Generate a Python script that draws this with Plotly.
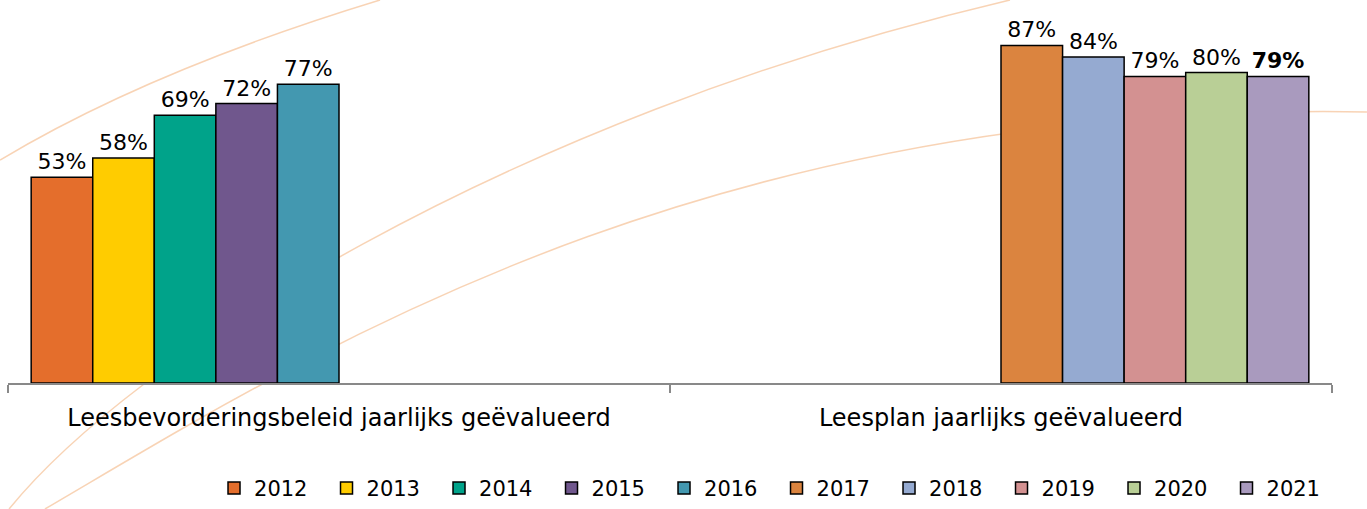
import plotly.graph_objects as go

categories = ["Leesbevorderingsbeleid jaarlijks geëvalueerd", "Leesplan jaarlijks geëvalueerd"]
years = ["2012", "2013", "2014", "2015", "2016", "2017", "2018", "2019", "2020", "2021"]
values_beleid = [53, 58, 69, 72, 77]          # 2012-2016, first category
values_leesplan = [87, 84, 79, 80, 79]        # 2017-2021, second category
colors = ["#E46E2C", "#FFCC00", "#00A38A", "#70578D", "#4398B0",
          "#DB843F", "#95AAD1", "#D39191", "#B9CF96", "#A99ABE"]

W, H = 1367, 509
L, R, T, B = 8, 35, 0, 126
PW, PH = W - L - R, H - T - B

fig = go.Figure()
for i, yr in enumerate(years):
    if i < 5:
        yv = [values_beleid[i], None]
    else:
        yv = [None, values_leesplan[i - 5]]
    txt = [None if v is None else f"{v}%" for v in yv]
    if yr == "2021":
        txt = [None if v is None else f"<b>{v}%</b>" for v in yv]
    fig.add_trace(go.Bar(
        x=categories, y=yv, name=yr, text=txt, textposition="outside",
        texttemplate="%{text}", constraintext="none", cliponaxis=False,
        textfont=dict(size=22, color="#000000"),
        marker=dict(color=colors[i], line=dict(color="#000000", width=1.5)),
    ))

def px2paper(x, y):
    return (x - L) / PW, (H - B - y) / PH

def path(points, kind):
    pts = [px2paper(x, y) for x, y in points]
    s = "M%.4f,%.4f %s" % (pts[0][0], pts[0][1], kind)
    s += " ".join("%.4f,%.4f" % p for p in pts[1:])
    return s

arc_color = "rgba(242,175,120,0.55)"
shapes = [
    dict(type="path", xref="paper", yref="paper", layer="below",
         path=path([(0, 160), (150, 70), (380, 0)], "Q"),
         line=dict(color=arc_color, width=1.5)),
    dict(type="path", xref="paper", yref="paper", layer="below",
         path=path([(9, 509), (130, 360), (500, 120), (1010, 0)], "C"),
         line=dict(color=arc_color, width=1.5)),
    dict(type="path", xref="paper", yref="paper", layer="below",
         path=path([(45, 509), (300, 360), (700, 100), (1367, 112)], "C"),
         line=dict(color=arc_color, width=1.5)),
]

fig.update_layout(
    width=W, height=H,
    margin=dict(l=L, r=R, t=T, b=B),
    paper_bgcolor="white", plot_bgcolor="rgba(0,0,0,0)",
    font=dict(family="Verdana, DejaVu Sans, sans-serif", size=20, color="#000000"),
    barmode="group", bargap=0.07, bargroupgap=0,
    showlegend=True,
    legend=dict(orientation="h", x=0.1556, xanchor="left", y=-0.3285, yanchor="bottom",
                font=dict(size=21), entrywidth=67.5, entrywidthmode="pixels",
                bgcolor="rgba(0,0,0,0)"),
    shapes=shapes,
)
fig.update_xaxes(showline=True, linecolor="#898989", linewidth=1.5,
                 ticks="outside", tickson="boundaries", ticklen=8, tickcolor="#898989",
                 tickwidth=1.5, showgrid=False, tickfont=dict(size=24),
                 ticklabelstandoff=12)
fig.update_yaxes(range=[0, 98.7], visible=False, showgrid=False)

fig.write_html("out.html", config={"displayModeBar": False},
               post_script="document.body.style.margin='0';")
